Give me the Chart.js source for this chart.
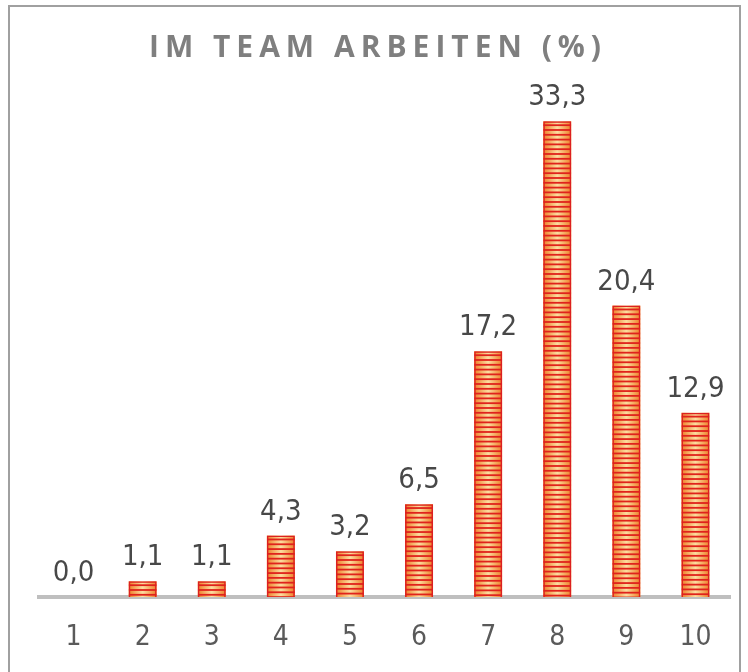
<!DOCTYPE html>
<html>
<head>
<meta charset="utf-8">
<script src="https://cdn.jsdelivr.net/npm/chart.js@4/dist/chart.umd.min.js"></script>
<style>
  html, body { margin: 0; padding: 0; background: #fff; }
  #wrap { position: relative; width: 748px; height: 672px; overflow: hidden; }
  #frame { position: absolute; left: 8px; top: 5px; width: 729px; height: 720px;
           border: 2px solid #a0a0a0; pointer-events: none; }
</style>
</head>
<body>
<div id="wrap">
  <canvas id="myChart" width="748" height="672"></canvas>
  <div id="frame"></div>
</div>
<script>
// DATOS DEL GRAFICO
const titulo = 'IM TEAM ARBEITEN (%)';
const categorias = ['1', '2', '3', '4', '5', '6', '7', '8', '9', '10'];
const valores = [0.0, 1.1, 1.1, 4.3, 3.2, 6.5, 17.2, 33.3, 20.4, 12.9];

const fuenteNum = '"Liberation Sans Narrow", "DejaVu Sans Condensed", sans-serif';

// RELLENO RAYADO DE LAS BARRAS
const rayasPlugin = {
    id: 'rayas',
    beforeDatasetsDraw(chart) {
        const ctx = chart.ctx;
        const meta = chart.getDatasetMeta(0);
        meta.data.forEach(bar => {
            const p = bar.getProps(['x', 'y', 'base', 'width'], true);
            const left = p.x - p.width / 2;
            const top = Math.min(p.y, p.base);
            const h = Math.abs(p.base - p.y);
            if (h < 0.5) return;
            ctx.save();
            const grad = ctx.createLinearGradient(left, 0, left + p.width, 0);
            grad.addColorStop(0, '#ee7f28');
            grad.addColorStop(0.5, '#fcdda0');
            grad.addColorStop(1, '#ee7f28');
            ctx.fillStyle = grad;
            ctx.fillRect(left, top, p.width, h);
            ctx.beginPath();
            ctx.rect(left, top, p.width, h);
            ctx.clip();
            ctx.fillStyle = '#e0231c';
            for (let yy = top + 3; yy < top + h; yy += 4.8) {
                ctx.fillRect(left, yy, p.width, 1.8);
            }
            ctx.restore();
        });
    }
};

// ETIQUETAS DE VALOR Y TITULO
const etiquetasPlugin = {
    id: 'etiquetas',
    afterDatasetsDraw(chart) {
        const ctx = chart.ctx;
        const meta = chart.getDatasetMeta(0);
        ctx.save();
        ctx.font = '29px ' + fuenteNum;
        ctx.fillStyle = '#484848';
        ctx.textAlign = 'center';
        ctx.textBaseline = 'alphabetic';
        meta.data.forEach((bar, i) => {
            const txt = valores[i].toFixed(1).replace('.', ',');
            ctx.fillText(txt, bar.x, bar.y - 16);
        });
        ctx.restore();
    },
    afterDraw(chart) {
        const ctx = chart.ctx;
        ctx.save();
        ctx.font = 'bold 30px "Open Sans", sans-serif';
        ctx.fillStyle = '#7f7f7f';
        ctx.textAlign = 'center';
        ctx.textBaseline = 'middle';
        ctx.letterSpacing = '6px';
        ctx.fillText(titulo, 378, 48);
        ctx.restore();
    }
};

const ctx = document.getElementById('myChart').getContext('2d');
window.myChart = new Chart(ctx, {
    type: 'bar',
    data: {
        labels: categorias,
        datasets: [{
            data: valores,
            backgroundColor: 'rgba(0,0,0,0)',
            borderColor: '#dc2020',
            borderWidth: 1.5,
            borderSkipped: 'bottom',
            categoryPercentage: 1,
            barPercentage: 0.405
        }]
    },
    options: {
        responsive: false,
        animation: false,
        layout: {
            padding: { left: 39, right: 18, top: 97, bottom: 0 }
        },
        plugins: {
            legend: { display: false },
            title: { display: false },
            tooltip: { enabled: false }
        },
        scales: {
            y: {
                display: false,
                min: 0,
                max: 35
            },
            x: {
                grid: { display: false, drawTicks: false },
                border: { display: true, color: '#bfbfbf', width: 4 },
                ticks: {
                    color: '#5a5a5a',
                    padding: 24,
                    font: { family: fuenteNum, size: 28 }
                },
                afterFit(scale) { scale.height = 75; }
            }
        }
    },
    plugins: [rayasPlugin, etiquetasPlugin]
});
</script>
</body>
</html>
